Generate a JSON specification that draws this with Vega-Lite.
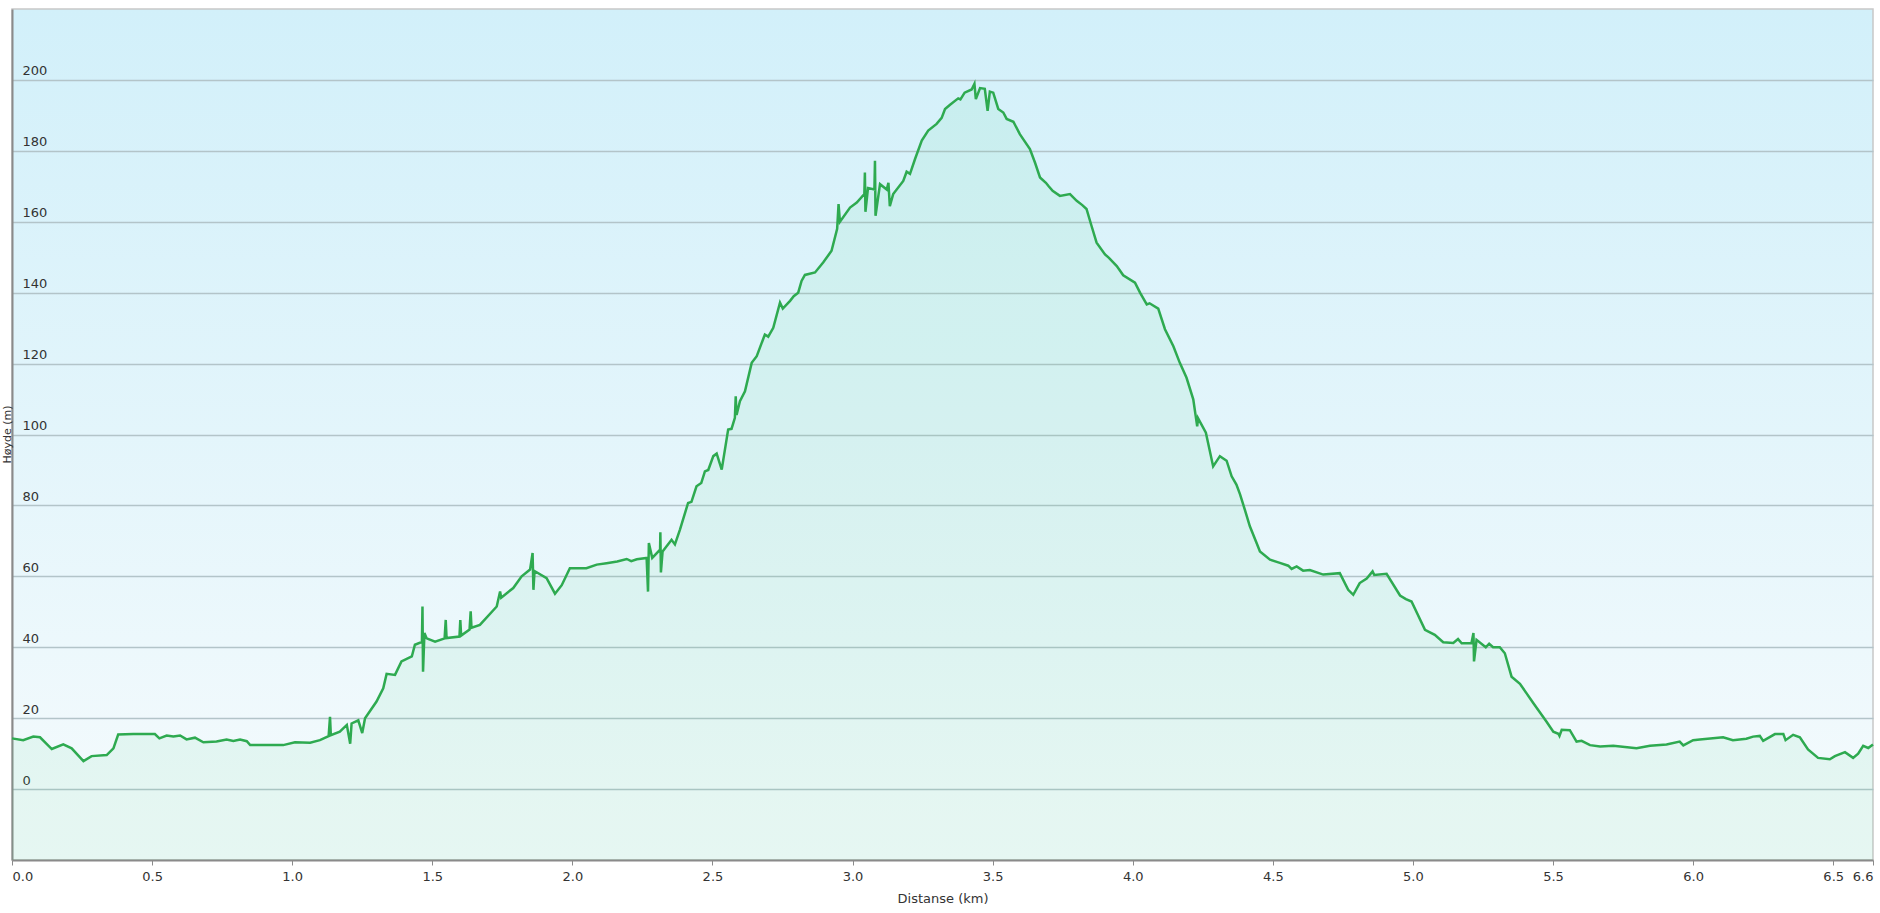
{
  "$schema": "https://vega.github.io/schema/vega-lite/v6.json",
  "width": 1861,
  "height": 851,
  "autosize": {"type": "none"},
  "padding": {"left": 12, "top": 9, "right": 7, "bottom": 53},
  "background": "white",
  "data": {"values": [
    {"km":0.000,"m":14.3},{"km":0.040,"m":13.8},{"km":0.076,"m":14.8},{"km":0.100,"m":14.6},{"km":0.142,"m":11.3},{"km":0.183,"m":12.6},{"km":0.213,"m":11.5},{"km":0.255,"m":7.9},{"km":0.284,"m":9.3},{"km":0.338,"m":9.6},{"km":0.362,"m":11.5},{"km":0.379,"m":15.4},{"km":0.433,"m":15.5},{"km":0.510,"m":15.5},{"km":0.526,"m":14.3},{"km":0.552,"m":15.1},{"km":0.576,"m":14.8},{"km":0.600,"m":15.1},{"km":0.623,"m":14.0},{"km":0.653,"m":14.5},{"km":0.683,"m":13.2},{"km":0.730,"m":13.4},{"km":0.766,"m":14.0},{"km":0.790,"m":13.6},{"km":0.814,"m":14.0},{"km":0.838,"m":13.5},{"km":0.850,"m":12.4},{"km":0.968,"m":12.4},{"km":1.010,"m":13.2},{"km":1.064,"m":13.1},{"km":1.099,"m":13.8},{"km":1.130,"m":14.9},{"km":1.135,"m":20.4},{"km":1.138,"m":15.2},{"km":1.170,"m":16.2},{"km":1.195,"m":18.1},{"km":1.207,"m":12.8},{"km":1.212,"m":18.5},{"km":1.236,"m":19.4},{"km":1.250,"m":15.8},{"km":1.260,"m":20.0},{"km":1.301,"m":24.7},{"km":1.325,"m":28.4},{"km":1.337,"m":32.5},{"km":1.367,"m":32.2},{"km":1.390,"m":36.0},{"km":1.427,"m":37.4},{"km":1.438,"m":40.7},{"km":1.463,"m":41.5},{"km":1.465,"m":51.5},{"km":1.467,"m":33.1},{"km":1.472,"m":44.0},{"km":1.480,"m":42.5},{"km":1.510,"m":41.6},{"km":1.544,"m":42.5},{"km":1.548,"m":47.7},{"km":1.551,"m":42.6},{"km":1.597,"m":43.0},{"km":1.600,"m":47.7},{"km":1.603,"m":43.3},{"km":1.633,"m":45.0},{"km":1.637,"m":50.1},{"km":1.640,"m":45.5},{"km":1.670,"m":46.3},{"km":1.730,"m":51.5},{"km":1.742,"m":55.7},{"km":1.746,"m":54.0},{"km":1.789,"m":56.7},{"km":1.819,"m":60.0},{"km":1.849,"m":61.9},{"km":1.858,"m":66.6},{"km":1.861,"m":56.2},{"km":1.865,"m":61.5},{"km":1.908,"m":59.5},{"km":1.938,"m":55.1},{"km":1.962,"m":57.5},{"km":1.991,"m":62.3},{"km":2.050,"m":62.3},{"km":2.087,"m":63.3},{"km":2.122,"m":63.7},{"km":2.160,"m":64.2},{"km":2.194,"m":64.9},{"km":2.210,"m":64.3},{"km":2.230,"m":64.8},{"km":2.265,"m":65.2},{"km":2.270,"m":55.7},{"km":2.273,"m":69.4},{"km":2.285,"m":65.2},{"km":2.313,"m":67.5},{"km":2.314,"m":72.4},{"km":2.316,"m":61.1},{"km":2.322,"m":67.0},{"km":2.354,"m":70.3},{"km":2.366,"m":69.0},{"km":2.384,"m":73.2},{"km":2.413,"m":80.7},{"km":2.425,"m":81.0},{"km":2.443,"m":85.4},{"km":2.460,"m":86.3},{"km":2.473,"m":89.6},{"km":2.485,"m":90.0},{"km":2.503,"m":93.9},{"km":2.515,"m":94.6},{"km":2.533,"m":90.1},{"km":2.556,"m":101.4},{"km":2.568,"m":101.6},{"km":2.580,"m":104.7},{"km":2.583,"m":110.8},{"km":2.586,"m":105.5},{"km":2.598,"m":109.4},{"km":2.616,"m":112.2},{"km":2.640,"m":120.2},{"km":2.658,"m":122.1},{"km":2.687,"m":128.2},{"km":2.699,"m":127.6},{"km":2.717,"m":130.1},{"km":2.741,"m":137.2},{"km":2.751,"m":135.5},{"km":2.777,"m":137.7},{"km":2.790,"m":139.0},{"km":2.806,"m":140.0},{"km":2.818,"m":143.3},{"km":2.830,"m":145.0},{"km":2.866,"m":145.7},{"km":2.895,"m":148.5},{"km":2.925,"m":151.8},{"km":2.945,"m":158.0},{"km":2.950,"m":165.0},{"km":2.955,"m":160.0},{"km":2.991,"m":164.0},{"km":3.015,"m":165.4},{"km":3.042,"m":167.8},{"km":3.044,"m":173.9},{"km":3.046,"m":162.8},{"km":3.055,"m":169.5},{"km":3.078,"m":169.1},{"km":3.080,"m":177.2},{"km":3.082,"m":161.7},{"km":3.098,"m":170.6},{"km":3.122,"m":169.1},{"km":3.128,"m":171.0},{"km":3.133,"m":164.4},{"km":3.145,"m":167.8},{"km":3.181,"m":171.5},{"km":3.193,"m":174.1},{"km":3.205,"m":173.5},{"km":3.223,"m":177.7},{"km":3.247,"m":182.9},{"km":3.270,"m":185.7},{"km":3.300,"m":187.6},{"km":3.318,"m":189.3},{"km":3.330,"m":191.8},{"km":3.348,"m":193.0},{"km":3.377,"m":194.8},{"km":3.385,"m":194.5},{"km":3.400,"m":196.4},{"km":3.425,"m":197.3},{"km":3.435,"m":198.9},{"km":3.440,"m":194.6},{"km":3.455,"m":197.7},{"km":3.472,"m":197.5},{"km":3.482,"m":191.3},{"km":3.490,"m":196.7},{"km":3.502,"m":196.4},{"km":3.520,"m":191.8},{"km":3.538,"m":190.8},{"km":3.550,"m":189.0},{"km":3.574,"m":188.2},{"km":3.597,"m":184.7},{"km":3.633,"m":180.5},{"km":3.651,"m":176.7},{"km":3.669,"m":172.5},{"km":3.690,"m":171.0},{"km":3.700,"m":170.0},{"km":3.714,"m":168.7},{"km":3.740,"m":167.3},{"km":3.776,"m":167.8},{"km":3.800,"m":165.9},{"km":3.820,"m":164.7},{"km":3.835,"m":163.6},{"km":3.853,"m":158.8},{"km":3.871,"m":154.1},{"km":3.901,"m":150.8},{"km":3.915,"m":149.8},{"km":3.943,"m":147.5},{"km":3.966,"m":144.9},{"km":4.008,"m":142.8},{"km":4.026,"m":140.0},{"km":4.050,"m":136.7},{"km":4.060,"m":137.0},{"km":4.091,"m":135.5},{"km":4.115,"m":129.7},{"km":4.145,"m":124.9},{"km":4.168,"m":120.2},{"km":4.192,"m":116.0},{"km":4.216,"m":109.9},{"km":4.230,"m":102.3},{"km":4.233,"m":104.6},{"km":4.261,"m":100.5},{"km":4.287,"m":91.0},{"km":4.311,"m":93.9},{"km":4.335,"m":92.6},{"km":4.353,"m":88.2},{"km":4.370,"m":85.9},{"km":4.383,"m":83.1},{"km":4.400,"m":78.8},{"km":4.418,"m":74.1},{"km":4.442,"m":69.4},{"km":4.454,"m":67.0},{"km":4.490,"m":64.7},{"km":4.525,"m":63.8},{"km":4.555,"m":63.0},{"km":4.567,"m":62.1},{"km":4.585,"m":62.8},{"km":4.608,"m":61.6},{"km":4.632,"m":61.8},{"km":4.680,"m":60.5},{"km":4.739,"m":60.9},{"km":4.769,"m":56.2},{"km":4.787,"m":54.8},{"km":4.810,"m":58.1},{"km":4.835,"m":59.4},{"km":4.856,"m":61.4},{"km":4.862,"m":60.4},{"km":4.906,"m":60.7},{"km":4.954,"m":54.6},{"km":4.975,"m":53.6},{"km":4.995,"m":52.9},{"km":5.043,"m":44.9},{"km":5.078,"m":43.5},{"km":5.108,"m":41.4},{"km":5.144,"m":41.2},{"km":5.161,"m":42.3},{"km":5.174,"m":41.1},{"km":5.209,"m":41.2},{"km":5.216,"m":44.0},{"km":5.218,"m":36.0},{"km":5.227,"m":42.1},{"km":5.260,"m":40.0},{"km":5.272,"m":41.0},{"km":5.286,"m":40.0},{"km":5.310,"m":40.0},{"km":5.328,"m":38.3},{"km":5.352,"m":31.7},{"km":5.382,"m":29.7},{"km":5.430,"m":24.2},{"km":5.477,"m":19.0},{"km":5.501,"m":16.2},{"km":5.519,"m":15.6},{"km":5.523,"m":15.0},{"km":5.531,"m":16.7},{"km":5.560,"m":16.6},{"km":5.584,"m":13.4},{"km":5.602,"m":13.6},{"km":5.632,"m":12.4},{"km":5.668,"m":12.0},{"km":5.715,"m":12.2},{"km":5.798,"m":11.5},{"km":5.846,"m":12.2},{"km":5.905,"m":12.6},{"km":5.952,"m":13.4},{"km":5.965,"m":12.3},{"km":6.000,"m":13.8},{"km":6.024,"m":14.0},{"km":6.107,"m":14.6},{"km":6.142,"m":13.8},{"km":6.190,"m":14.2},{"km":6.214,"m":14.8},{"km":6.238,"m":15.0},{"km":6.250,"m":13.6},{"km":6.292,"m":15.5},{"km":6.322,"m":15.5},{"km":6.330,"m":13.8},{"km":6.357,"m":15.3},{"km":6.381,"m":14.6},{"km":6.410,"m":11.2},{"km":6.446,"m":8.8},{"km":6.488,"m":8.4},{"km":6.506,"m":9.3},{"km":6.542,"m":10.4},{"km":6.571,"m":8.8},{"km":6.589,"m":10.0},{"km":6.607,"m":12.2},{"km":6.625,"m":11.6},{"km":6.642,"m":12.6}
  ]},
  "encoding": {
    "x": {
      "field": "km", "type": "quantitative",
      "scale": {"domain": [0, 6.642], "nice": false, "zero": false},
      "axis": {
        "title": "Distanse  (km)",
        "values": [0, 0.5, 1, 1.5, 2, 2.5, 3, 3.5, 4, 4.5, 5, 5.5, 6, 6.5, 6.642],
        "format": ".1f",
        "grid": false,
        "labelFlush": true,
        "labelPadding": 5,
        "tickSize": 5,
        "tickColor": "#8a8a8a",
        "domainColor": "#8a8a8a",
        "domainWidth": 2,
        "titlePadding": 9
      }
    },
    "y": {
      "field": "m", "type": "quantitative",
      "scale": {"domain": [-20, 220], "nice": false, "zero": false},
      "axis": {
        "title": "Høyde (m)",
        "values": [0, 20, 40, 60, 80, 100, 120, 140, 160, 180, 200],
        "grid": true,
        "gridColor": "#b3c4c9",
        "gridWidth": 1.3,
        "ticks": false,
        "tickSize": 0,
        "labelAlign": "left",
        "labelBaseline": "alphabetic",
        "labelPadding": -10,
        "labelOffset": -5,
        "domainColor": "#8a8a8a",
        "domainWidth": 2,
        "titleX": -2,
        "titleY": 425,
        "titleAngle": -90,
        "titleAlign": "center",
        "titleBaseline": "alphabetic",
        "titleFontSize": 11
      }
    }
  },
  "layer": [
    {
      "mark": {"type": "area", "color": "#4fd384", "opacity": 0.09},
      "encoding": {"y2": {"datum": -20}}
    },
    {
      "mark": {"type": "line", "color": "#2eaa50", "strokeWidth": 2.5}
    }
  ],
  "config": {
    "view": {
      "stroke": "#c8c8c8",
      "strokeWidth": 1.5,
      "fill": {
        "gradient": "linear", "x1": 0, "y1": 0, "x2": 0, "y2": 1,
        "stops": [
          {"offset": 0, "color": "#d2f0fa"},
          {"offset": 0.5, "color": "#e3f5fb"},
          {"offset": 1, "color": "#f6fbfd"}
        ]
      }
    },
    "axis": {
      "labelFont": "DejaVu Sans",
      "labelFontSize": 13,
      "labelColor": "#333333",
      "titleFont": "DejaVu Sans",
      "titleFontSize": 13,
      "titleFontWeight": "normal",
      "titleColor": "#333333"
    }
  }
}
